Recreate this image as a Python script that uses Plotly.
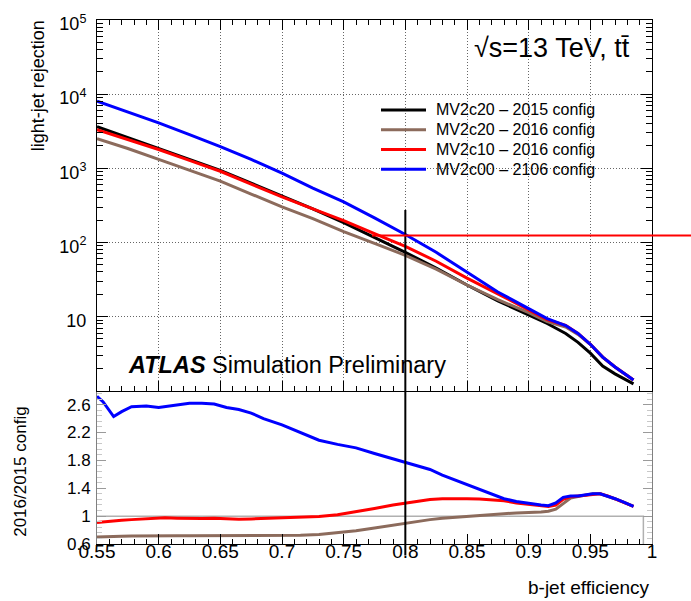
import math
import plotly.graph_objects as go

# ---------------- data ----------------
eff = [0.55, 0.575, 0.60, 0.625, 0.65, 0.675, 0.70, 0.725, 0.75, 0.775, 0.80,
       0.825, 0.85, 0.875, 0.90, 0.915, 0.93, 0.94, 0.95, 0.96, 0.97, 0.985]

rej_mv2c20_2015 = [3630, 2590, 1848, 1318, 940, 631, 423, 284, 185, 116.6, 73.6,
                   45.0, 26.7, 16.3, 10.6, 8.07, 5.93, 4.50, 3.21, 2.15, 1.69, 1.24]
rej_mv2c20_2016 = [2512, 1848, 1318, 940, 671, 450, 302, 209, 140, 97, 67.1,
                   43.7, 26.7, 16.9, 11.3, 8.58, 7.24, 5.75, 4.23, 2.84, 2.09, 1.40]
rej_mv2c10_2016 = [3311, 2436, 1792, 1278, 912, 612, 411, 284, 197, 132, 88.4,
                   55.8, 33.1, 20.3, 12.4, 9.12, 7.59, 5.93, 4.23, 2.84, 2.09, 1.40]
rej_mv2c00_2016 = [8067, 5754, 4106, 2840, 1965, 1318, 858, 541, 352, 215, 128,
                   73.6, 39.8, 21.5, 12.8, 9.40, 7.59, 5.93, 4.23, 2.84, 2.09, 1.40]

eff_ratio = [0.55, 0.555, 0.5635, 0.57, 0.578, 0.59, 0.60, 0.605, 0.615, 0.625,
             0.635, 0.645, 0.655, 0.665, 0.675, 0.685, 0.70, 0.715, 0.73, 0.745,
             0.76, 0.775, 0.79, 0.80, 0.81, 0.82, 0.83, 0.84, 0.85, 0.86, 0.87,
             0.88, 0.89, 0.90, 0.91, 0.916, 0.922, 0.928, 0.934, 0.94, 0.946,
             0.952, 0.958, 0.964, 0.97, 0.977, 0.985]
ratio_mv2c20_2016 = [0.70, 0.705, 0.71, 0.71, 0.715, 0.72, 0.72, 0.72, 0.72, 0.72,
                     0.72, 0.72, 0.72, 0.72, 0.72, 0.72, 0.72, 0.725, 0.735, 0.76,
                     0.79, 0.83, 0.87, 0.90, 0.93, 0.95, 0.97, 0.985, 1.0, 1.01, 1.02,
                     1.035, 1.045, 1.05, 1.06, 1.07, 1.10, 1.18, 1.26, 1.28, 1.30,
                     1.32, 1.32, 1.29, 1.25, 1.20, 1.14]
ratio_mv2c10_2016 = [0.91, 0.92, 0.93, 0.94, 0.95, 0.96, 0.97, 0.975, 0.97, 0.965,
                     0.965, 0.97, 0.96, 0.955, 0.96, 0.965, 0.97, 0.98, 0.995, 1.02,
                     1.06, 1.11, 1.16, 1.19, 1.22, 1.24, 1.25, 1.255, 1.25, 1.245, 1.235,
                     1.22, 1.19, 1.17, 1.15, 1.14, 1.16, 1.24, 1.28, 1.29, 1.31,
                     1.32, 1.32, 1.29, 1.25, 1.20, 1.14]
ratio_mv2c00_2016 = [2.72, 2.64, 2.43, 2.50, 2.57, 2.58, 2.56, 2.57, 2.60, 2.62,
                     2.62, 2.61, 2.56, 2.53, 2.48, 2.40, 2.31, 2.20, 2.09, 2.03,
                     1.98, 1.90, 1.82, 1.77, 1.72, 1.67, 1.59, 1.52, 1.45, 1.38, 1.31,
                     1.25, 1.21, 1.18, 1.16, 1.15, 1.19, 1.27, 1.29, 1.29, 1.31,
                     1.32, 1.32, 1.29, 1.25, 1.20, 1.14]

ref_x = [0.55, 0.993, 0.993]
ref_y = [1.0, 1.0, 0.6]

names = ["MV2c20 \u2013 2015 config", "MV2c20 \u2013 2016 config",
         "MV2c10 \u2013 2016 config", "MV2c00 \u2013 2106 config"]
colors = ["#000000", "#8C6B5C", "#FF0000", "#0000FF"]

wp_eff = 0.80          # working point efficiency (vertical line)
wp_line_top = 275      # top end of vertical line (rejection)
wp_rej = 124           # rejection of MV2c00 at the working point (horizontal line)
match_eff = 0.773      # efficiency of 2015 config at same rejection

x_ticks = [0.55, 0.6, 0.65, 0.7, 0.75, 0.8, 0.85, 0.9, 0.95, 1.0]
x_ticktext = ["0.55", "0.6", "0.65", "0.7", "0.75", "0.8", "0.85", "0.9", "0.95", "1"]
ratio_ticks = [0.6, 1.0, 1.4, 1.8, 2.2, 2.6]
ratio_ticktext = ["0.6", "1", "1.4", "1.8", "2.2", "2.6"]
rej_ticks = [10, 100, 1000, 10000, 100000]
rej_ticktext = ["10", "10<sup>2</sup>", "10<sup>3</sup>", "10<sup>4</sup>", "10<sup>5</sup>"]

# ---------------- figure ----------------
FONT = "Liberation Sans, Arial, Helvetica, sans-serif"
X_RANGE = [0.55, 1.0]
LOG_RANGE = [0, 5]
R_RANGE = [0.6, 2.8]
SPLIT = 155 / 530
GRID_DASH = "1px,2px"


def px_x(p):
    return (p - 97) / 555


def px_y(p):
    return (544 - p) / 530


fig = go.Figure()

rej_series = [rej_mv2c20_2015, rej_mv2c20_2016, rej_mv2c10_2016, rej_mv2c00_2016]
for nm, col, ys in zip(names, colors, rej_series):
    fig.add_trace(go.Scatter(x=eff, y=ys, mode="lines", name=nm, showlegend=False,
                             line=dict(color=col, width=3),
                             xaxis="x2", yaxis="y2"))

fig.add_trace(go.Scatter(x=ref_x, y=ref_y, mode="lines", showlegend=False,
                         line=dict(color="#B0B0B0", width=1.5),
                         xaxis="x", yaxis="y"))
for col, ys in zip(colors[1:], [ratio_mv2c20_2016, ratio_mv2c10_2016, ratio_mv2c00_2016]):
    fig.add_trace(go.Scatter(x=eff_ratio, y=ys, mode="lines", showlegend=False,
                             line=dict(color=col, width=3),
                             xaxis="x", yaxis="y"))


def top_paper_y(v):
    return SPLIT + (math.log10(v) - LOG_RANGE[0]) / (LOG_RANGE[1] - LOG_RANGE[0]) * (1 - SPLIT)


def paper_x(v):
    return (v - X_RANGE[0]) / (X_RANGE[1] - X_RANGE[0])


shapes = [
    dict(type="line", xref="paper", yref="paper",
         x0=paper_x(wp_eff), x1=paper_x(wp_eff), y0=-0.022, y1=top_paper_y(wp_line_top),
         line=dict(color="black", width=2)),
    dict(type="line", xref="paper", yref="paper",
         x0=paper_x(match_eff), x1=px_x(691),
         y0=top_paper_y(wp_rej), y1=top_paper_y(wp_rej),
         line=dict(color="#FF0000", width=2)),
]

annotations = [
    dict(text="light-jet rejection", textangle=-90, xref="paper", yref="paper",
         x=px_x(38), y=px_y(81), xanchor="center", yanchor="middle",
         showarrow=False, font=dict(size=18, color="black", family=FONT)),
    dict(text="2016/2015 config", textangle=-90, xref="paper", yref="paper",
         x=px_x(21), y=px_y(471), xanchor="center", yanchor="middle",
         showarrow=False, font=dict(size=17, color="black", family=FONT)),
    dict(text="b-jet efficiency", xref="paper", yref="paper",
         x=1.0, y=px_y(588), xanchor="right", yanchor="middle",
         showarrow=False, font=dict(size=19, color="black", family=FONT)),
    dict(text="\u221As=13 TeV, tt\u0304", xref="paper", yref="paper",
         x=px_x(472), y=px_y(42), xanchor="left", yanchor="middle",
         showarrow=False, font=dict(size=27, color="black", family=FONT)),
    dict(text="<b><i>ATLAS</i></b> Simulation Preliminary", xref="paper", yref="paper",
         x=px_x(126), y=px_y(363), xanchor="left", yanchor="middle",
         showarrow=False, font=dict(size=23.5, color="black", family=FONT)),
]

# legend drawn as line samples + labels, top-right of upper panel
legend_rows = [105, 125, 145, 165]
for nm, col, ry in zip(names, colors, legend_rows):
    shapes.append(dict(type="line", xref="paper", yref="paper",
                       x0=px_x(381), x1=px_x(426), y0=px_y(ry), y1=px_y(ry),
                       line=dict(color=col, width=3)))
    annotations.append(dict(text=nm, xref="paper", yref="paper",
                            x=px_x(434), y=px_y(ry), xanchor="left", yanchor="middle",
                            showarrow=False,
                            font=dict(size=16, color="black", family=FONT)))

minor_x = dict(ticks="inside", dtick=0.01, ticklen=5, tickcolor="black", showgrid=False)
rej_minor_vals = [m * 10 ** d for d in range(0, 5) for m in range(2, 10)]

fig.update_layout(
    width=691, height=601,
    margin=dict(l=97, r=39, t=14, b=57),
    paper_bgcolor="white", plot_bgcolor="white",
    font=dict(family=FONT, color="black"),
    showlegend=False,
    xaxis=dict(domain=[0, 1], range=X_RANGE, anchor="y",
               tickmode="array", tickvals=x_ticks, ticktext=x_ticktext,
               ticks="inside", ticklen=10, tickcolor="black",
               minor=minor_x, showline=True, linecolor="black", linewidth=1,
               mirror=False, showgrid=False, zeroline=False, ticklabelstandoff=-10,
               tickfont=dict(size=19, family=FONT, color="black")),
    yaxis=dict(domain=[0, SPLIT], range=R_RANGE, anchor="x",
               tickmode="array", tickvals=ratio_ticks, ticktext=ratio_ticktext,
               ticks="inside", ticklen=9, tickcolor="#9A9A9A",
               minor=dict(ticks="inside", dtick=0.08, tick0=0.6, ticklen=5,
                          tickcolor="#C8C8C8", showgrid=False),
               showline=True, linecolor="#808080", linewidth=1, mirror="allticks",
               showgrid=False, zeroline=False, ticklabelstandoff=2,
               tickfont=dict(size=17, family=FONT, color="black")),
    xaxis2=dict(domain=[0, 1], range=X_RANGE, anchor="y2", matches="x",
                tickmode="array", tickvals=x_ticks, showticklabels=False,
                ticks="inside", ticklen=10, tickcolor="black",
                minor=minor_x, showline=True, linecolor="black", linewidth=1,
                mirror="allticks", showgrid=True, gridcolor="#666666",
                griddash=GRID_DASH, gridwidth=1, zeroline=False),
    yaxis2=dict(domain=[SPLIT, 1], type="log", range=LOG_RANGE, anchor="x2",
                tickmode="array", tickvals=rej_ticks, ticktext=rej_ticktext,
                ticks="inside", ticklen=11, tickcolor="black",
                minor=dict(ticks="inside", tickmode="array", tickvals=rej_minor_vals,
                           ticklen=6, tickcolor="black", showgrid=False),
                showline=True, linecolor="black", linewidth=1, mirror="allticks",
                showgrid=True, gridcolor="#666666", griddash=GRID_DASH, gridwidth=1,
                zeroline=False, ticklabelstandoff=6, ticklabelshift=4,
                tickfont=dict(size=18, family=FONT, color="black")),
    shapes=shapes,
    annotations=annotations,
)

fig.write_html("out.html")
